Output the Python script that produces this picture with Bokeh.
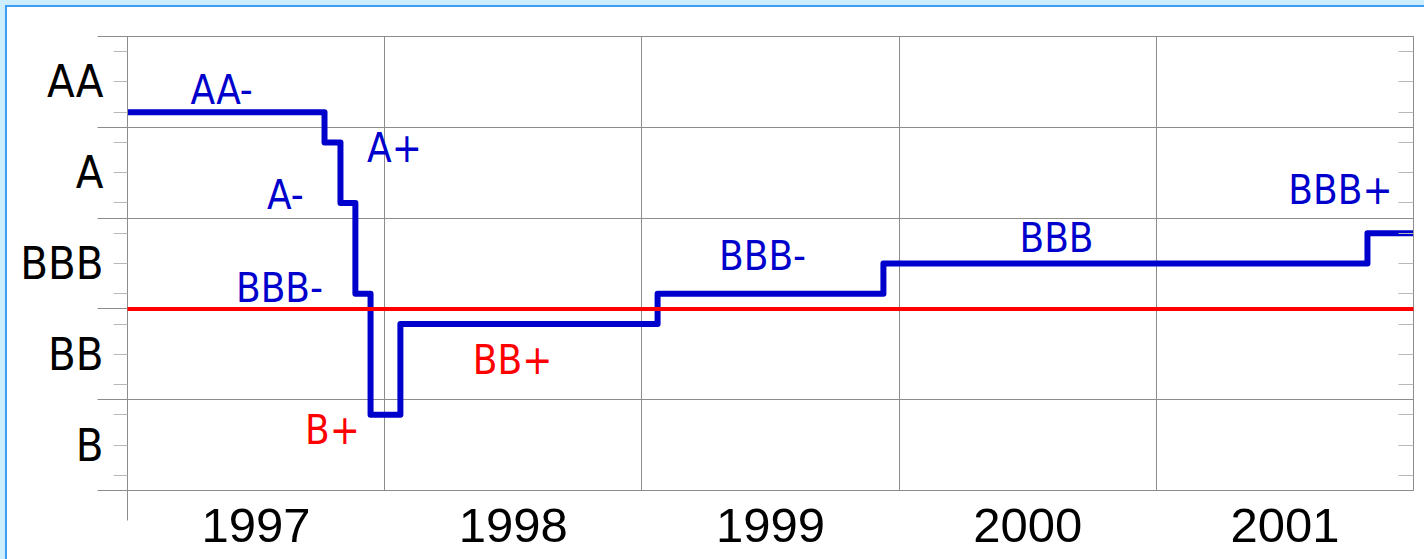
from bokeh.plotting import figure
from bokeh.models import (FixedTicker, LinearAxis, Range1d, ColumnDataSource,
                          LabelSet, Arrow)
from bokeh.core.properties import value
from bokeh.embed import file_html
from bokeh.resources import INLINE

# ---------------- data ----------------
# rating scale, one notch per step (index+1 = numeric level)
rating_scale = ["B-", "B", "B+", "BB-", "BB", "BB+", "BBB-", "BBB", "BBB+",
                "A-", "A", "A+", "AA-", "AA", "AA+"]
category_labels = ["B", "BB", "BBB", "A", "AA"]
category_centres = ["B", "BB", "BBB", "A", "AA"]          # flat notch of each band
year_labels = ["1997", "1998", "1999", "2000", "2001"]
years = [1997, 1998, 1999, 2000, 2001]

# dates (fractional years) at which the rating changed, and the rating after it
change_dates = [1997.0, 1997.766, 1997.828, 1997.886, 1997.945,
                1998.061, 1999.061, 1999.939, 2001.821, 2002.0]
rating_after = ["AA-", "A+", "A-", "BBB-", "B+", "BB+", "BBB-", "BBB", "BBB+", "BBB+"]

# lowest investment grade lies between BB+ and BBB-
investment_grade_edge = ("BB+", "BBB-")

# annotation texts
note_text = ["AA-", "A+", "A-", "BBB-", "B+", "BB+", "BBB-", "BBB", "BBB+"]
note_colour = ["#0000cc", "#0000cc", "#0000cc", "#0000cc", "#ff0000",
               "#ff0000", "#0000cc", "#0000cc", "#0000cc"]
# annotation placements (year, notch level)
note_x = [1997.366, 1998.038, 1997.614, 1997.591, 1997.797,
          1998.497, 1999.469, 2000.612, 2001.716]
note_y = [13.73, 11.81, 10.26, 7.19, 2.49, 4.81, 8.24, 8.84, 10.42]

# ---------------- derived ----------------
def level(r):
    return rating_scale.index(r) + 1

notch = [level(r) for r in rating_after]
n = len(rating_scale)
band_edges = [0.5 + 3 * k for k in range(n // 3 + 1)]
ig_level = (level(investment_grade_edge[0]) + level(investment_grade_edge[1])) / 2

GRID = "#8c8c8c"
TICK = "#b8b8b8"
BLUE = "#0000cc"
RED = "#ff0000"

x0, x1 = years[0], years[-1] + 1
p = figure(width=1424, height=559, output_backend="svg", toolbar_location=None,
           x_range=Range1d(x0, x1), y_range=Range1d(0.5, n + 0.5),
           min_border_left=127, min_border_right=11, min_border_top=36,
           min_border_bottom=69, background_fill_color="white",
           border_fill_color=None, outline_line_color=GRID,
           outline_line_width=1)

px_per_year = 1286.0 / (x1 - x0)

# left axis: ticks at each notch, long ticks at band edges, band labels
ya = p.yaxis[0]
ya.ticker = FixedTicker(ticks=list(range(1, n + 1)), minor_ticks=band_edges)
overrides = {i: "" for i in range(1, n + 1)}
for lab, c in zip(category_labels, category_centres):
    overrides[level(c)] = lab
ya.major_label_overrides = overrides
ya.major_tick_out = 14
ya.major_tick_in = 0
ya.minor_tick_out = 30
ya.minor_tick_in = 0
ya.major_tick_line_color = TICK
ya.minor_tick_line_color = GRID
ya.axis_line_color = GRID
ya.major_label_standoff = -6
ya.major_label_text_font = "DejaVu Sans Condensed"
ya.major_label_text_font_size = "45px"
ya.major_label_text_color = "black"

# bottom axis: year labels centred in each year
xa = p.xaxis[0]
xa.ticker = FixedTicker(ticks=[y + 0.5 for y in years], minor_ticks=[years[0]])
xa.major_label_overrides = {y + 0.5: lab for y, lab in zip(years, year_labels)}
xa.major_tick_out = 0
xa.major_tick_in = 0
xa.minor_tick_out = 30
xa.minor_tick_in = 0
xa.minor_tick_line_color = GRID
xa.axis_line_color = GRID
xa.major_label_standoff = -12
xa.major_label_text_font = "Liberation Sans"
xa.major_label_text_font_size = "49px"
xa.major_label_text_color = "black"

# right axis: inward notch ticks only
ra = LinearAxis(ticker=FixedTicker(ticks=list(range(1, n + 1)), minor_ticks=[]),
                major_label_overrides={i: "" for i in range(1, n + 1)},
                major_tick_in=15, major_tick_out=0, minor_tick_in=0, minor_tick_out=0,
                major_tick_line_color=TICK, axis_line_color=GRID,
                major_label_standoff=0)
p.add_layout(ra, "right")

p.xgrid.ticker = FixedTicker(ticks=years[1:])
p.ygrid.ticker = FixedTicker(ticks=band_edges[1:-1])
p.xgrid.grid_line_color = GRID
p.ygrid.grid_line_color = GRID

# bottom edge extension to the left
p.add_layout(Arrow(end=None, x_start=x0 - 90 / px_per_year, x_end=x0,
                   y_start=0.5, y_end=0.5, line_color=GRID, line_width=1))

# rating path
p.step(change_dates, notch, mode="after", line_color=BLUE, line_width=6,
       line_join="round", line_cap="round")

# investment-grade threshold
p.add_layout(Arrow(end=None, x_start=x0 - 32 / px_per_year, x_end=x1 + 3 / px_per_year,
                   y_start=ig_level, y_end=ig_level, line_color=RED, line_width=4))

src = ColumnDataSource(dict(x=note_x, y=note_y, text=note_text, color=note_colour))
p.add_layout(LabelSet(x="x", y="y", text="text", source=src, text_color="color",
                      text_align="center", text_baseline="middle",
                      text_font=value("DejaVu Sans Condensed"), text_font_size="40px"))

p.styles = {"box-shadow": "inset 5px 5px 0 0 #cdeefe, inset 7px 7px 0 0 #3d9df2",
            "background-color": "white"}

open("out.html", "w").write(file_html(p, INLINE))
